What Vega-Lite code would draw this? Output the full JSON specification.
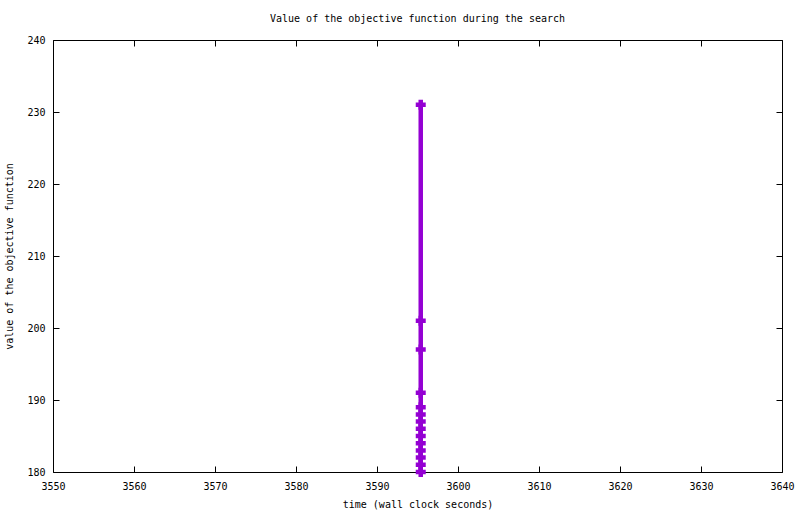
{
  "$schema": "https://vega.github.io/schema/vega-lite/v6.json",
  "autosize": "none",
  "width": 729,
  "height": 432,
  "padding": {"left": 53, "top": 40, "right": 18, "bottom": 42},
  "background": "white",
  "title": {"text": "Value of the objective function during the search", "font": "DejaVu Sans Mono", "fontSize": 10, "fontWeight": "normal", "color": "black", "offset": 11},
  "config": {
    "view": {"stroke": null},
    "axis": {"grid": false, "domainColor": "black", "tickColor": "black", "labelColor": "black", "titleColor": "black", "labelFont": "DejaVu Sans Mono", "titleFont": "DejaVu Sans Mono", "labelFontSize": 10, "titleFontSize": 10, "titleFontWeight": "normal", "tickSize": -6, "domainWidth": 1, "tickWidth": 1}
  },
  "data": {"values": [
    {"time": 3595.4, "value": 231},
    {"time": 3595.4, "value": 201},
    {"time": 3595.4, "value": 197},
    {"time": 3595.4, "value": 191},
    {"time": 3595.4, "value": 189},
    {"time": 3595.4, "value": 188},
    {"time": 3595.4, "value": 187},
    {"time": 3595.4, "value": 186},
    {"time": 3595.4, "value": 185},
    {"time": 3595.4, "value": 184},
    {"time": 3595.4, "value": 183},
    {"time": 3595.4, "value": 182},
    {"time": 3595.4, "value": 181},
    {"time": 3595.4, "value": 180}
  ]},
  "layer": [
    {
      "mark": {"type": "line", "color": "#9400D3", "strokeWidth": 4.5, "clip": true},
      "encoding": {
        "x": {"field": "time", "type": "quantitative", "scale": {"domain": [3550, 3640], "nice": false, "zero": false},
              "axis": {"orient": "bottom", "title": "time (wall clock seconds)", "format": "d", "values": [3550,3560,3570,3580,3590,3600,3610,3620,3630,3640], "labelPadding": 15, "titlePadding": 8, "labelFlush": false}},
        "y": {"field": "value", "type": "quantitative", "scale": {"domain": [180, 240], "nice": false, "zero": false},
              "axis": {"orient": "left", "title": "value of the objective function", "format": "d", "values": [180,190,200,210,220,230,240], "labelPadding": 14, "titlePadding": 12, "labelFlush": false}},
        "order": {"value": null}
      }
    },
    {
      "mark": {"type": "point", "shape": "M-1,0H1M0,-1V1", "size": 100, "strokeWidth": 4.5, "color": "#9400D3", "opacity": 1, "filled": false},
      "encoding": {
        "x": {"field": "time", "type": "quantitative", "scale": {"domain": [3550, 3640], "nice": false, "zero": false},
              "axis": {"orient": "top", "title": null, "labels": false, "values": [3550,3560,3570,3580,3590,3600,3610,3620,3630,3640]}},
        "y": {"field": "value", "type": "quantitative", "scale": {"domain": [180, 240], "nice": false, "zero": false},
              "axis": {"orient": "right", "title": null, "labels": false, "values": [180,190,200,210,220,230,240]}}
      }
    }
  ],
  "resolve": {"axis": {"x": "independent", "y": "independent"}}
}
